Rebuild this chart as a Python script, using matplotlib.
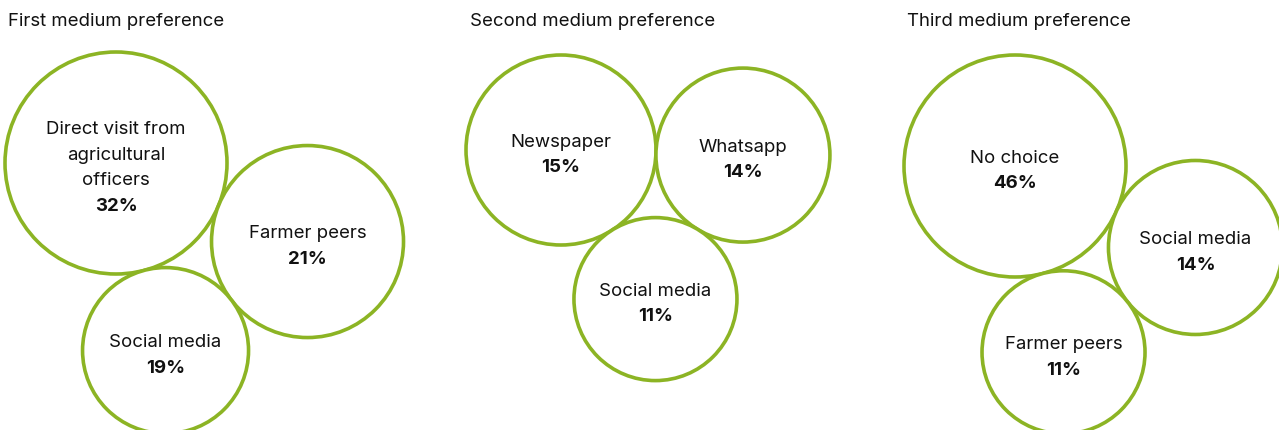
import math
import matplotlib.pyplot as plt
from matplotlib.patches import Circle

plt.rcParams['font.family'] = ['Inter', 'DejaVu Sans']

# data
panel_titles = ['First medium preference', 'Second medium preference', 'Third medium preference']

first_labels = ['Direct visit from\nagricultural\nofficers', 'Farmer peers', 'Social media']
first_values = [32, 21, 19]

second_labels = ['Newspaper', 'Whatsapp', 'Social media']
second_values = [15, 14, 11]

third_labels = ['No choice', 'Social media', 'Farmer peers']
third_values = [46, 14, 11]

# layout (pixels): bubble radii, first bubble centre, direction of 2nd bubble
bubble_radius = [[111, 96, 83], [95, 87, 81.5], [111, 87, 81.5]]
anchor = [(116, 163), (561, 150), (1015, 166)]
second_angle = [22.3, 1.6, 24.3]
title_x = [8, 470, 907]

GREEN = '#8cb424'
LINE_H = 25.5


def tangent_layout(c1, radii, angle):
    """three mutually tangent circles: 2nd at given angle, 3rd below both"""
    r1, r2, r3 = radii
    a = math.radians(angle)
    d12, d13, d23 = r1 + r2, r1 + r3, r2 + r3
    c2 = (c1[0] + d12 * math.cos(a), c1[1] + d12 * math.sin(a))
    cos_a = (d12 ** 2 + d13 ** 2 - d23 ** 2) / (2 * d12 * d13)
    b = a + math.acos(cos_a)
    c3 = (c1[0] + d13 * math.cos(b), c1[1] + d13 * math.sin(b))
    return [c1, c2, c3]


fig = plt.figure(figsize=(12.79, 4.30), dpi=100)
ax = fig.add_axes([0, 0, 1, 1])
ax.set_xlim(0, 1279)
ax.set_ylim(430, 0)
ax.set_aspect('equal')
ax.axis('off')

panels = [(first_labels, first_values), (second_labels, second_values), (third_labels, third_values)]

for p, (labels, values) in enumerate(panels):
    ax.text(title_x[p], 21, panel_titles[p], fontsize=13.4, color='#111111', ha='left', va='center')
    centres = tangent_layout(anchor[p], bubble_radius[p], second_angle[p])
    for i in range(3):
        cx, cy = centres[i]
        ax.add_patch(Circle((cx, cy), bubble_radius[p][i], facecolor='white',
                            edgecolor=GREEN, linewidth=2.6, zorder=2))
        lines = labels[i].split('\n')
        n = len(lines) + 1
        top = cy + 5 - (n - 1) * LINE_H / 2
        for j, line in enumerate(lines):
            ax.text(cx, top + j * LINE_H, line, fontsize=13.4, color='#111111',
                    ha='center', va='center', zorder=3)
        ax.text(cx, top + (n - 1) * LINE_H, '%d%%' % values[i], fontsize=13.4,
                fontweight='bold', color='#111111', ha='center', va='center', zorder=3)

plt.savefig('out.png', dpi=100)
